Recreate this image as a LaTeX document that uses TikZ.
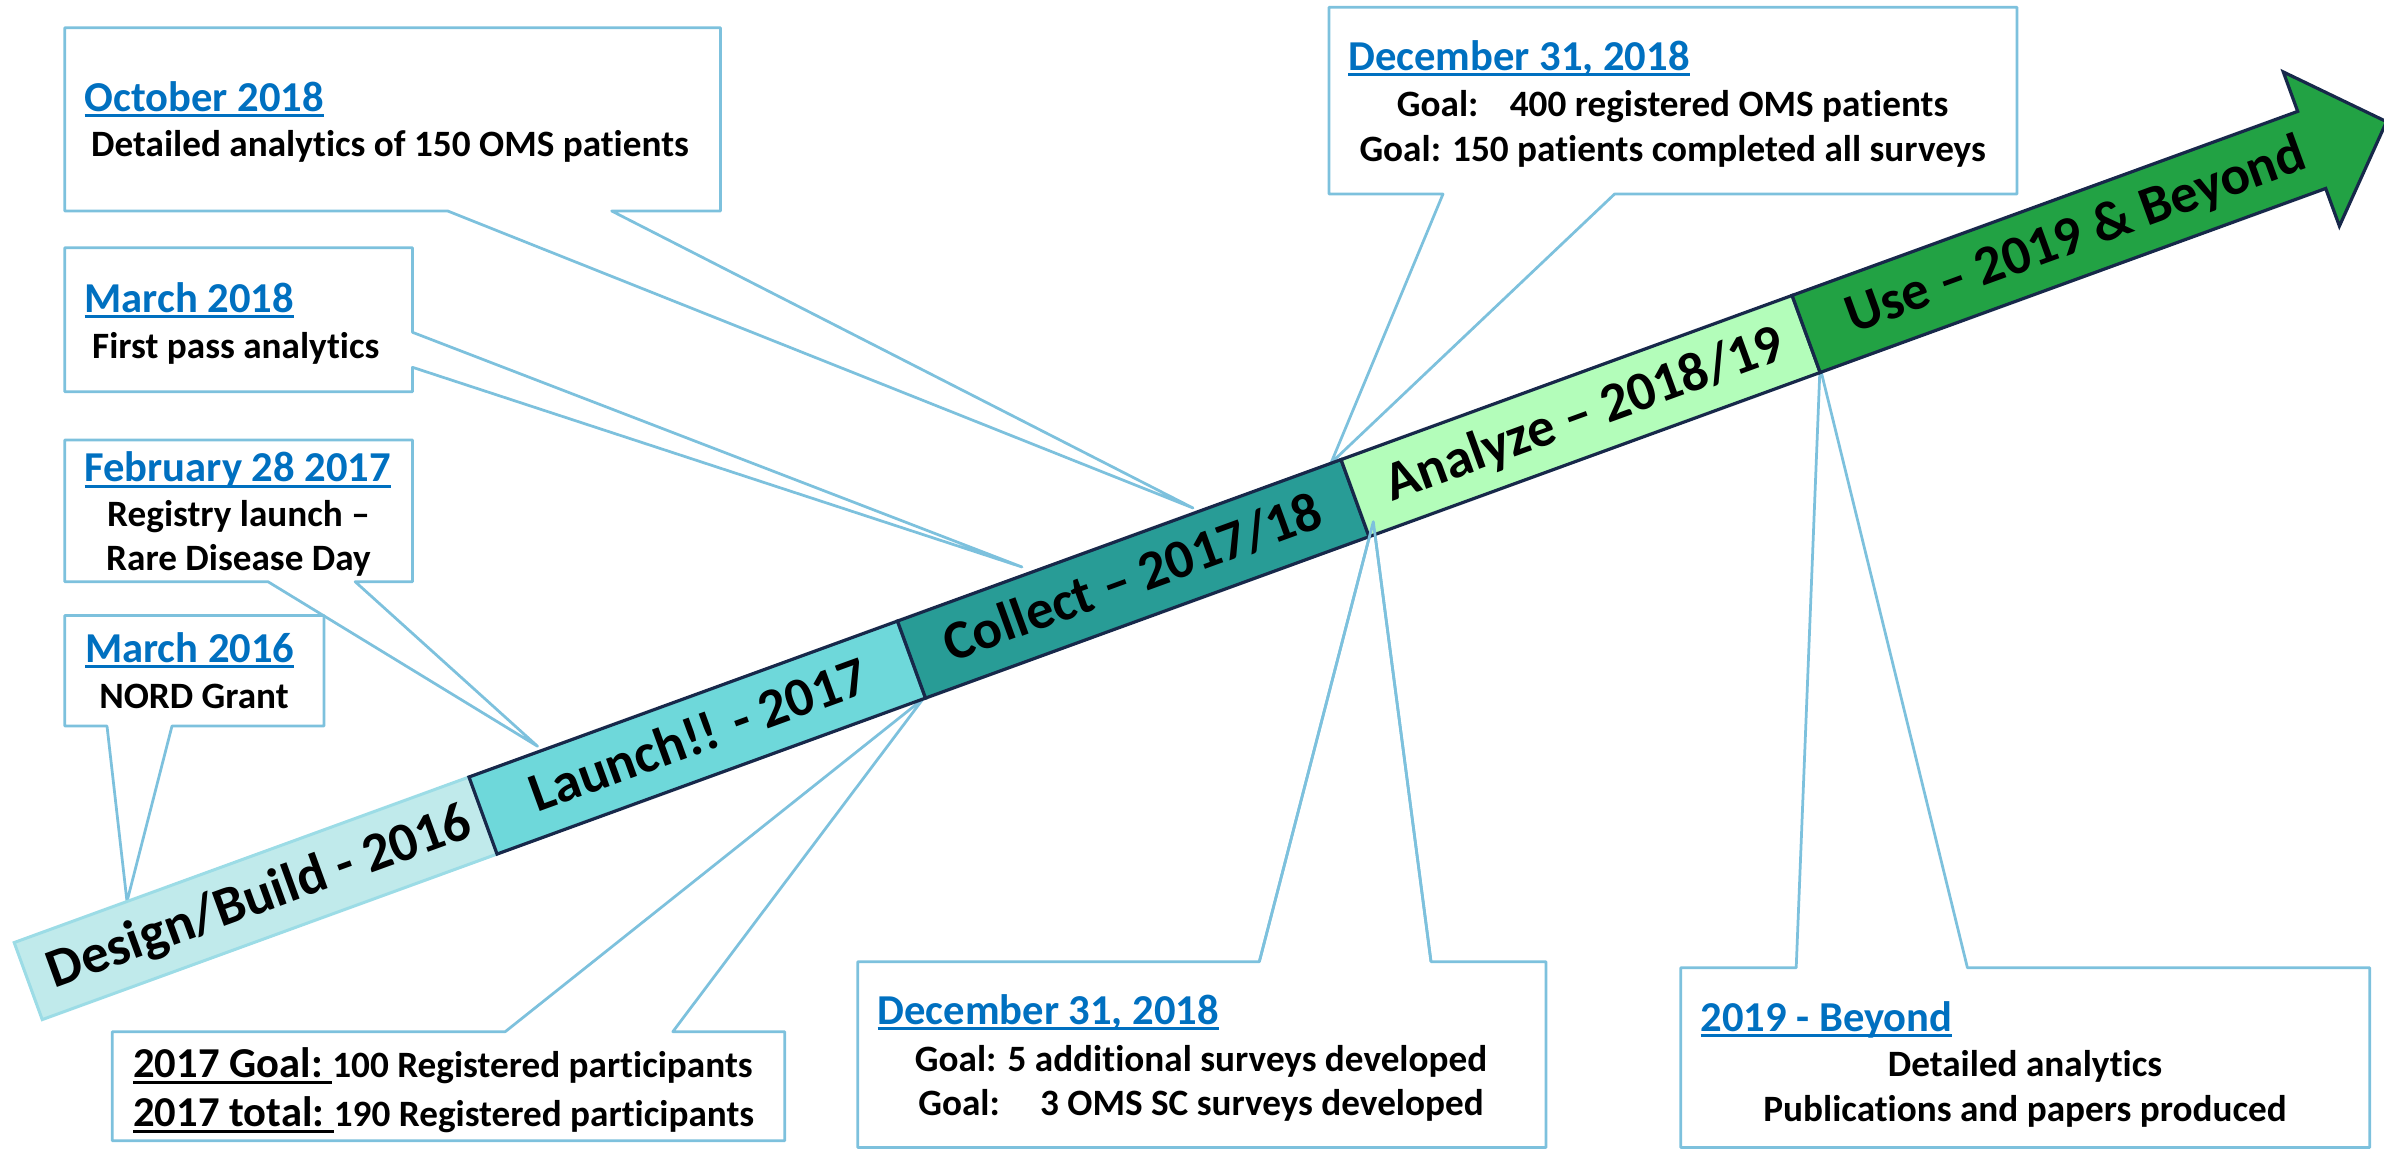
\documentclass[tikz,border=0pt]{standalone}
\usepackage{fontspec}
\setmainfont{Carlito}[Ligatures=NoCommon]
\definecolor{designc}{HTML}{C0EAEB}
\definecolor{designline}{HTML}{9CDCE6}
\definecolor{launchc}{HTML}{6ED8DA}
\definecolor{collectc}{HTML}{289C96}
\definecolor{analyzec}{HTML}{B3FDBA}
\definecolor{usec}{HTML}{22A244}
\definecolor{navyc}{HTML}{17284A}
\definecolor{calloutc}{HTML}{7DC1DD}
\definecolor{headc}{HTML}{0070C0}
\newcommand{\hdfont}{\bfseries\fontsize{42.6pt}{50pt}\selectfont}
\newcommand{\bdfont}{\bfseries\fontsize{37.2pt}{45pt}\selectfont}
\newcommand{\bandfont}{\bfseries\fontsize{55pt}{60pt}\selectfont}
\newcommand{\myul}[1]{\sbox0{#1}\rlap{\rule[-0.15em]{\wd0}{0.07em}}\usebox0}
\tikzset{
  callout/.style={draw=calloutc, line width=2.75pt, fill=white, line join=round},
  calloutline/.style={draw=calloutc, line width=2.75pt, line join=round},
  seg/.style={draw=navyc, line width=3.2pt, line join=miter},
  hd/.style={anchor=base west, inner sep=0pt, text=headc, font=\hdfont},
  bd/.style={anchor=base, inner sep=0pt, font=\bdfont},
  bdl/.style={anchor=base west, inner sep=0pt, font=\bdfont},
  bandlbl/.style={anchor=base, inner sep=0pt, rotate=20, font=\bandfont},
}
\begin{document}
\begin{tikzpicture}[x=1pt,y=-1pt]
\useasboundingbox (0,0) rectangle (2384,1149);
\clip (0,0) rectangle (2384,1149);

% pointer tips
\coordinate (tOct) at (1193,508);
\coordinate (tMar18) at (1022,567);
\coordinate (tFeb) at (537.6,746.3);
\coordinate (tMar16) at (127,901.5);
\coordinate (tDecT) at (1331,463);
\coordinate (tGoal) at (923,699);
\coordinate (tDecB) at (1373.3,521.7);
\coordinate (t2019) at (1820,367);
\coordinate (decBl) at (1259.3,961.7);
\coordinate (decBr) at (1431,961.7);

% callouts
\draw[callout] (64.7,27.7) -- (720.5,27.7) -- (720.5,211) -- (611.7,211) -- (tOct) -- (447.7,211) -- (64.7,211) -- cycle;
\draw[callout] (64.7,247.7) -- (412.5,247.7) -- (412.5,332.3) -- (tMar18) -- (412.5,367.3) -- (412.5,391.7) -- (64.7,391.7) -- cycle;
\draw[callout] (64.7,440) -- (412.5,440) -- (412.5,581.7) -- (355.2,581.7) -- (tFeb) -- (268,581.7) -- (64.7,581.7) -- cycle;
\draw[callout] (64.7,615.5) -- (324,615.5) -- (324,726) -- (172,726) -- (tMar16) -- (107,726) -- (64.7,726) -- cycle;
\draw[callout] (1329,7.3) -- (2017,7.3) -- (2017,194) -- (1614.6,194) -- (tDecT) -- (1443,194) -- (1329,194) -- cycle;
\draw[callout] (112.3,1031.7) -- (505.2,1031.7) -- (tGoal) -- (672.8,1031.7) -- (784.7,1031.7) -- (784.7,1140.7) -- (112.3,1140.7) -- cycle;
\draw[callout] (857.8,961.7) -- (decBl) -- (tDecB) -- (decBr) -- (1546,961.7) -- (1546,1147.5) -- (857.8,1147.5) -- cycle;
\draw[callout] (1680.7,967.7) -- (1796.2,967.7) -- (t2019) -- (1967.4,967.7) -- (2369.6,967.7) -- (2369.6,1147.5) -- (1680.7,1147.5) -- cycle;

% band
\begin{scope}[shift={(469,777)}, rotate=20]
\filldraw[fill=designc, draw=designline, line width=3pt] (-484,0) rectangle (0,82);
\filldraw[seg, fill=launchc] (0,0) rectangle (456,82);
\filldraw[seg, fill=collectc] (456,0) rectangle (928,82);
\filldraw[seg, fill=analyzec] (928,0) rectangle (1408,82);
\filldraw[seg, fill=usec] (1408,0) -- (1946,0) -- (1946,-42) -- (2026,40) -- (1946,122) -- (1946,82) -- (1408,82) -- cycle;
\node[bandlbl] (lDesign) at (-238,57) {Design/Build - 2016};
\node[bandlbl] (lLaunch) at (230,57) {Launch!! - 2017};
\node[bandlbl] (lCollect) at (692,57) {Collect – 2017/18};
\node[bandlbl] (lAnalyze) at (1172,57) {Analyze – 2018/19};
\node[bandlbl] (lUse) at (1695,57) {Use – 2019 \& Beyond};
\end{scope}

% pointer lines drawn over the band
\draw[calloutline] (decBl) -- (tDecB) -- (decBr);

% texts
\node[hd] (hOct) at (84.4,111) {\myul{October 2018}};
\node[bdl] (bOct) at (91,156) {Detailed analytics of 150 OMS patients};

\node[hd] (hMar18) at (84.4,312) {\myul{March 2018}};
\node[bdl] (bMar18) at (92,358) {First pass analytics};

\node[hd] (hFeb) at (84.4,481.4) {\myul{February 28 2017}};
\node[bd] (bFeb1) at (238.5,526.6) {Registry launch –};
\node[bd] (bFeb2) at (238.5,570.5) {Rare Disease Day};

\node[hd] (hMar16) at (84.8,662) {\myul{March 2016}};
\node[bd] (bMar16) at (194,708) {NORD Grant};

\node[hd] (hDecT) at (1348,70) {\myul{December 31, 2018}};
\node[bd] (bDecT1) at (1672.6,116.7) {Goal:\kern23pt\ 400 registered OMS patients};
\node[bd] (bDecT2) at (1672.6,161) {Goal: 150 patients completed all surveys};

\node[bdl] (bGoal1) at (133.2,1077.3) {{\hdfont\myul{2017 Goal:\ }}100 Registered participants};
\node[bdl] (bGoal2) at (133.2,1126.7) {{\hdfont\myul{2017 total:\ }}190 Registered participants};

\node[hd] (hDecB) at (877.4,1024) {\myul{December 31, 2018}};
\node[bd] (bDecB1) at (1201,1071.7) {Goal: 5 additional surveys developed};
\node[bd] (bDecB2) at (1201,1115) {Goal:\kern32pt\ 3 OMS SC surveys developed};

\node[hd] (h2019) at (1700.3,1031) {\myul{2019 - Beyond}};
\node[bd] (b2019a) at (2025,1076.7) {Detailed analytics};
\node[bd] (b2019b) at (2025,1121.7) {Publications and papers produced};
\end{tikzpicture}
\end{document}
